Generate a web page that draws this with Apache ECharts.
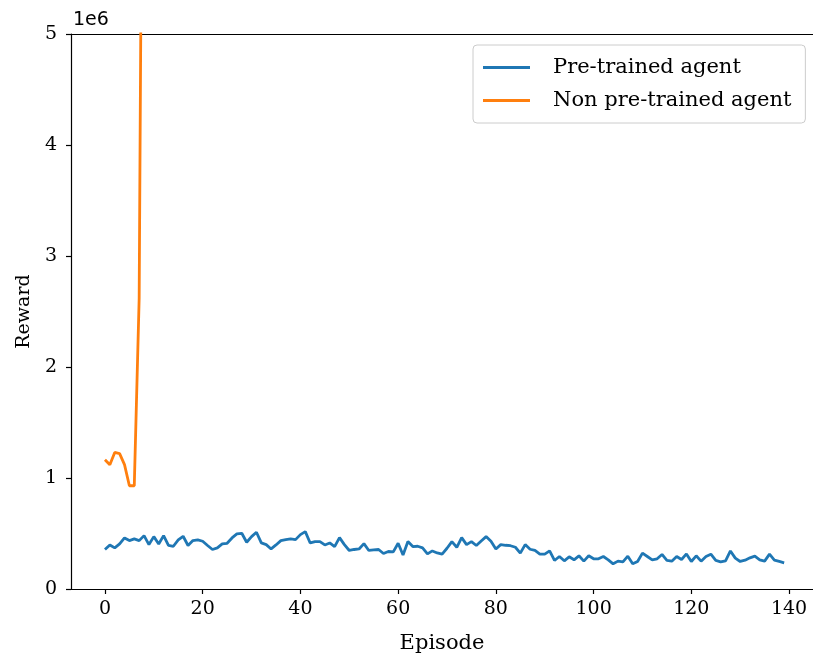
<!DOCTYPE html>
<html>
<head>
<meta charset="utf-8">
<script src="https://cdn.jsdelivr.net/npm/echarts@6/dist/echarts.min.js"></script>
<style>html,body{margin:0;padding:0;background:#fff}#c{width:813px;height:659px}</style>
</head>
<body>
<div id="c"></div>
<script>
// Reward values (in units of 1e6)
const pretrained = [
  0.356,0.397,0.370,0.406,0.460,0.436,0.451,0.436,0.481,0.400,
  0.472,0.406,0.481,0.392,0.385,0.442,0.475,0.392,0.436,0.442,
  0.430,0.392,0.356,0.370,0.406,0.412,0.460,0.496,0.502,0.421,
  0.472,0.511,0.415,0.400,0.361,0.397,0.436,0.445,0.451,0.445,
  0.490,0.517,0.415,0.427,0.427,0.397,0.415,0.382,0.463,0.400,
  0.347,0.356,0.361,0.409,0.347,0.352,0.356,0.320,0.338,0.334,
  0.412,0.307,0.427,0.382,0.385,0.370,0.316,0.343,0.325,0.314,
  0.367,0.427,0.376,0.463,0.400,0.427,0.392,0.433,0.472,0.430,
  0.361,0.400,0.394,0.390,0.376,0.323,0.400,0.358,0.347,0.314,
  0.314,0.343,0.257,0.293,0.254,0.290,0.263,0.299,0.251,0.299,
  0.272,0.272,0.293,0.263,0.227,0.251,0.245,0.296,0.227,0.248,
  0.323,0.293,0.263,0.272,0.311,0.257,0.251,0.293,0.266,0.316,
  0.248,0.299,0.251,0.293,0.314,0.257,0.245,0.254,0.343,0.278,
  0.248,0.260,0.281,0.296,0.263,0.251,0.314,0.260,0.248,0.236
];
const nonPretrained = [1.165,1.12,1.23,1.22,1.12,0.93,0.93,2.62,10.0];
const xTicks = [0,20,40,60,80,100,120,140];
const seriesNames = ['Pre-trained agent','Non pre-trained agent'];

const SCALE = 1e6;
const X_MIN = -6.95, X_MAX = 144.9;
const toPairs = arr => arr.map((v,i)=>[i, v*SCALE]);

const serif = '"DejaVu Serif", "Liberation Serif", serif';
const axisLineStyle = {color:'#000', width:1.2};
const chart = echarts.init(document.getElementById('c'), null, {renderer:'canvas'});
chart.setOption({
  animation:false,
  backgroundColor:'#fff',
  grid:{left:71, top:34, bottom:67, right:0, show:false, containLabel:false},
  legend:{
    orient:'vertical', left:473, top:45,
    padding:[12,14,12,10], itemGap:12,
    itemWidth:47, itemHeight:3, icon:'rect',
    backgroundColor:'#fff', borderColor:'#cccccc', borderWidth:1, borderRadius:4,
    textStyle:{fontFamily:serif, fontSize:21, color:'#000', padding:[0,0,0,18]},
    data:seriesNames
  },
  xAxis:[{
    type:'value', min:X_MIN, max:X_MAX,
    name:'Episode', nameLocation:'middle', nameGap:44,
    nameTextStyle:{fontFamily:serif, fontSize:21, color:'#000'},
    axisLine:{show:true, onZero:false, lineStyle:axisLineStyle},
    axisTick:{show:true, inside:false, length:5, lineStyle:axisLineStyle, customValues:xTicks},
    axisLabel:{fontFamily:serif, fontSize:19, color:'#000', margin:11, customValues:xTicks},
    splitLine:{show:false}
  },{
    type:'value', min:X_MIN, max:X_MAX, position:'top',
    axisLine:{show:true, onZero:false, lineStyle:axisLineStyle},
    axisTick:{show:false}, axisLabel:{show:false}, splitLine:{show:false}
  }],
  yAxis:{
    type:'value', min:0, max:5*SCALE, interval:SCALE,
    name:'Reward', nameLocation:'middle', nameGap:36, nameRotate:90,
    nameTextStyle:{fontFamily:serif, fontSize:19, color:'#000'},
    axisLine:{show:true, onZero:false, lineStyle:axisLineStyle},
    axisTick:{show:true, inside:false, length:5, lineStyle:axisLineStyle},
    axisLabel:{fontFamily:serif, fontSize:19, color:'#000', margin:14, formatter:v=>String(Math.round(v/SCALE))},
    splitLine:{show:false}
  },
  graphic:[{type:'text', left:73, top:11, style:{text:'1e6', fontFamily:'"DejaVu Sans", sans-serif', fontSize:19, fill:'#000'}}],
  series:[
    {name:seriesNames[0], type:'line', xAxisIndex:0, data:toPairs(pretrained), showSymbol:false, symbol:'none', clip:true,
     lineStyle:{color:'#1f77b4', width:2.8}, itemStyle:{color:'#1f77b4'}},
    {name:seriesNames[1], type:'line', xAxisIndex:0, data:toPairs(nonPretrained), showSymbol:false, symbol:'none', clip:true,
     lineStyle:{color:'#ff7f0e', width:2.8}, itemStyle:{color:'#ff7f0e'}}
  ]
});
</script>
</body>
</html>
